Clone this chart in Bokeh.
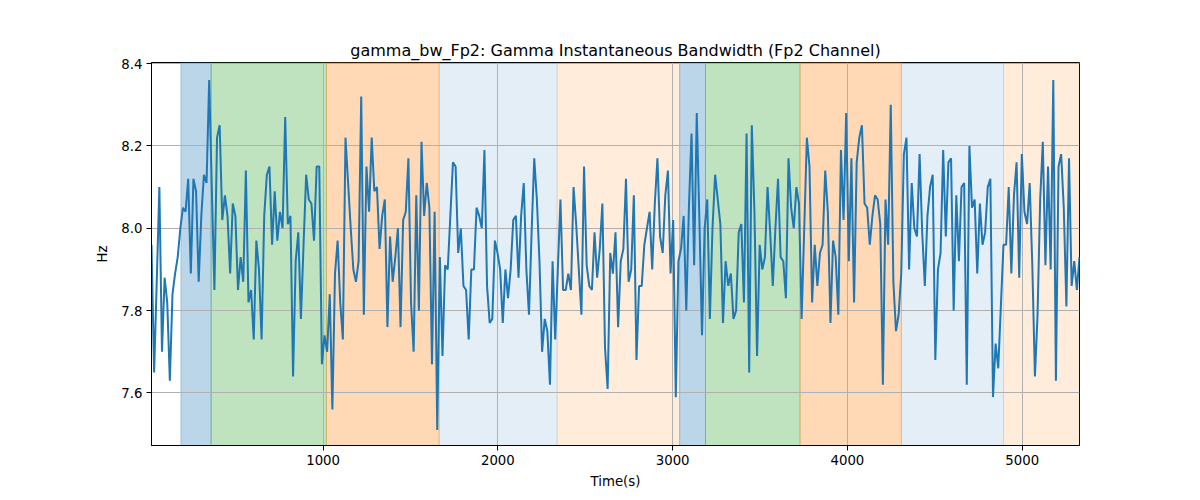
import numpy as np
from bokeh.plotting import figure
from bokeh.models import Range1d, FixedTicker, BoxAnnotation, ColumnDataSource, PrintfTickFormatter
from bokeh.embed import file_html
from bokeh.resources import INLINE

# ---- data ----
t_start = 18.0
t_step = 15.0

seg1 = [7.96, 7.65, 7.87, 8.10, 7.70, 7.88, 7.82, 7.63, 7.84, 7.89,
        7.93, 8.00, 8.05, 8.04, 8.12, 7.89, 8.12, 8.09, 7.87, 8.03,
        8.13, 8.11, 8.36, 8.10, 7.85, 8.22, 8.25, 8.02, 8.08, 8.03,
        7.89, 8.06, 8.03, 7.85, 7.93, 7.87, 8.14, 7.82, 7.85, 7.73,
        7.97, 7.90, 7.73, 8.03, 8.13, 8.15, 7.96, 8.09, 7.97, 8.04,
        8.00, 8.27, 8.01, 8.03, 7.64, 7.92, 7.99, 7.78, 7.96, 8.13]
seg2 = [8.07, 8.06, 7.97, 8.15, 8.15, 7.67, 7.74, 7.70, 7.84, 7.56,
        7.89, 7.97, 7.82, 7.73, 8.22, 8.11, 8.00, 7.90, 7.87, 7.92,
        8.32, 7.79, 8.15, 8.04, 8.22, 8.09, 8.10, 7.95, 8.03, 8.07,
        7.76, 7.98, 7.87, 7.93, 8.00, 7.76, 8.02, 8.04, 8.17, 7.82,
        7.70, 8.08, 7.80, 8.21, 8.03, 8.11, 8.05, 7.67, 8.04, 7.51,
        7.93, 7.69, 7.91, 7.90, 8.03, 8.16, 8.15, 7.94]
seg3 = [8.00, 7.86, 7.85, 7.73, 7.90, 7.90, 8.05, 8.03, 8.00, 8.19,
        7.86, 7.77, 7.78, 7.97, 7.94, 7.90, 7.77, 7.90, 7.83, 7.90,
        8.02, 8.03, 7.88, 8.03, 8.11, 7.90, 7.79, 7.99, 8.17, 8.07,
        7.92, 7.70, 7.78, 7.75, 7.62, 7.92, 7.73, 7.90, 8.07, 7.85,
        7.85, 7.89, 7.85, 8.10, 8.01, 7.90, 7.79, 8.15, 7.91, 7.86,
        7.85, 7.99, 7.88, 7.95, 8.06, 7.71, 7.61, 7.94]
seg4 = [7.89, 7.99, 7.76, 7.92, 7.95, 8.12, 7.87, 7.90, 8.08, 7.68,
        7.86, 7.86, 7.96, 8.00, 8.04, 7.90, 8.06, 8.17, 7.98, 7.94,
        8.08, 8.14, 7.89, 8.02, 7.59, 7.92, 7.95, 8.03, 7.80, 8.05,
        8.23, 7.91, 8.28, 8.02, 7.74, 8.00, 8.07, 7.78, 8.00, 8.13,
        8.07, 8.01, 7.77, 7.92, 7.86, 7.89, 7.78, 7.80, 7.99, 8.01,
        7.82, 8.23, 7.65, 8.25, 8.04, 7.69, 7.96, 7.90]
seg5 = [7.93, 8.10, 7.99, 7.86, 8.00, 8.12, 7.93, 7.92, 7.83, 8.17,
        8.05, 8.00, 8.10, 8.06, 7.78, 8.00, 8.22, 8.15, 7.82, 7.96,
        7.86, 7.94, 7.96, 8.14, 8.04, 7.77, 7.97, 7.93, 7.79, 8.19,
        8.02, 8.28, 7.92, 8.17, 7.82, 8.16, 8.22, 8.25, 8.06, 8.05,
        7.96, 8.03, 8.08, 8.07, 8.01, 7.62, 8.07, 7.96, 8.30, 7.87,
        7.75, 7.79, 7.89, 8.18, 8.22, 7.90, 8.11, 8.00]
seg6 = [7.98, 8.18, 7.99, 7.86, 8.03, 8.10, 8.13, 7.68, 7.90, 7.94,
        8.19, 7.98, 8.16, 8.17, 7.80, 8.08, 7.92, 8.10, 8.11, 7.62,
        8.20, 8.05, 8.07, 7.89, 8.06, 7.96, 7.99, 8.10, 8.12, 7.59,
        7.72, 7.66, 7.81, 7.96, 7.96, 8.10, 7.89, 8.08, 8.16, 7.88,
        8.18, 8.04, 8.01, 8.11, 7.91, 7.64, 7.79, 8.07, 8.21, 7.91,
        8.15, 7.90, 8.36, 7.63, 8.15, 8.18, 8.05, 7.81, 8.17, 7.86,
        7.92, 7.85, 7.93]

bw_values = seg1 + seg2 + seg3 + seg4 + seg5 + seg6
times = [t_start + t_step * i for i in range(len(bw_values))]

span_start = [186, 359, 1019, 1664, 2339, 3040, 3188, 3729, 4309, 4893]
span_end = [359, 1019, 1664, 2339, 3040, 3188, 3729, 4309, 4893, 5331]
span_color = ["#1f77b4", "#2ca02c", "#ff7f0e", "#1f77b4", "#ff7f0e",
              "#1f77b4", "#2ca02c", "#ff7f0e", "#1f77b4", "#ff7f0e"]
span_alpha = [0.3, 0.3, 0.3, 0.12, 0.15, 0.3, 0.3, 0.3, 0.12, 0.15]

x_ticks = [1000, 2000, 3000, 4000, 5000]
y_ticks = [7.6, 7.8, 8.0, 8.2, 8.4]

title_text = "gamma_bw_Fp2: Gamma Instantaneous Bandwidth (Fp2 Channel)"
x_label = "Time(s)"
y_label = "Hz"

# ---- figure ----
p = figure(width=1184, height=492,
           x_range=Range1d(times[0], times[-1]),
           y_range=Range1d(7.4725, 8.4025),
           output_backend="svg", toolbar_location=None,
           min_border_left=151, min_border_right=105,
           min_border_top=62, min_border_bottom=47,
           title=title_text)

p.title.align = "center"
p.title.text_font = "DejaVu Sans"
p.title.text_font_size = "16px"
p.title.text_font_style = "normal"
p.title.text_color = "black"
p.title.standoff = 6

p.background_fill_color = "white"
p.border_fill_color = "white"
p.outline_line_color = "black"
p.outline_line_width = 1

for s, e, c, a in zip(span_start, span_end, span_color, span_alpha):
    p.add_layout(BoxAnnotation(left=s, right=e, fill_color=c, fill_alpha=a,
                               line_color=c, line_alpha=a, line_width=1,
                               level="image"))

src = ColumnDataSource(dict(t=times, v=bw_values))
p.line("t", "v", source=src, line_color="#1f77b4", line_width=2)

p.xaxis.ticker = FixedTicker(ticks=x_ticks)
p.yaxis.ticker = FixedTicker(ticks=y_ticks)
p.xgrid.ticker = FixedTicker(ticks=x_ticks)
p.ygrid.ticker = FixedTicker(ticks=y_ticks)
p.yaxis.formatter = PrintfTickFormatter(format="%.1f")

for ax in (p.xaxis, p.yaxis):
    ax.axis_line_color = "black"
    ax.axis_line_width = 1
    ax.major_tick_line_color = "black"
    ax.major_tick_line_width = 1
    ax.major_tick_out = 5
    ax.major_tick_in = 0
    ax.minor_tick_out = 0
    ax.minor_tick_in = 0
    ax.major_label_text_font = "DejaVu Sans"
    ax.major_label_text_font_size = "13.3px"
    ax.major_label_text_color = "black"
    ax.major_label_standoff = 4
    ax.axis_label_text_font = "DejaVu Sans"
    ax.axis_label_text_font_size = "13.3px"
    ax.axis_label_text_font_style = "normal"
    ax.axis_label_text_color = "black"

p.xaxis.axis_label = x_label
p.yaxis.axis_label = y_label
p.xaxis.axis_label_standoff = 6
p.yaxis.axis_label_standoff = 8

for g in (p.xgrid, p.ygrid):
    g.grid_line_color = "#b0b0b0"
    g.grid_line_width = 1

open("out.html", "w").write(file_html(p, INLINE))
